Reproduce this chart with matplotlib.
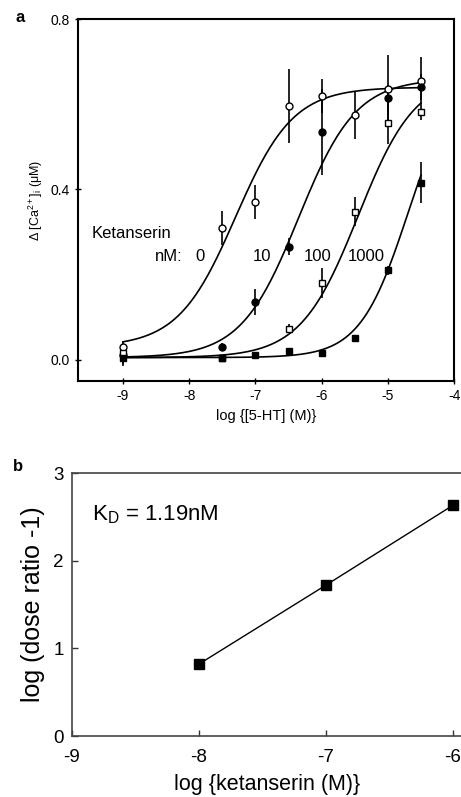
import numpy as np
import matplotlib
matplotlib.use("Agg")
import matplotlib.pyplot as plt

plt.rcParams['font.family'] = ['Liberation Sans', 'DejaVu Sans']
plt.rcParams['mathtext.fontset'] = 'custom'
plt.rcParams['mathtext.rm'] = 'Liberation Sans'
plt.rcParams['mathtext.it'] = 'Liberation Sans:italic'
plt.rcParams['axes.unicode_minus'] = False

# panel a: 5-HT concentration-response
x_0nM = [-9, -7.5, -7, -6.5, -6, -5.5, -5, -4.5]
y_0nM = [0.03, 0.31, 0.37, 0.595, 0.62, 0.575, 0.635, 0.655]
e_0nM = [0.015, 0.04, 0.04, 0.087, 0.04, 0.056, 0.08, 0.055]

x_10nM = [-9, -7.5, -7, -6.5, -6, -5, -4.5]
y_10nM = [0.01, 0.03, 0.135, 0.265, 0.535, 0.615, 0.64]
e_10nM = [0.02, 0.01, 0.03, 0.02, 0.1, 0.03, 0.03]

x_100nM = [-9, -7.5, -6.5, -6, -5.5, -5, -4.5]
y_100nM = [0.015, 0.005, 0.073, 0.18, 0.348, 0.557, 0.583]
e_100nM = [0.02, 0.0, 0.01, 0.035, 0.035, 0.05, 0.02]

x_1000nM = [-9, -7.5, -7, -6.5, -6, -5.5, -5, -4.5]
y_1000nM = [0.005, 0.005, 0.012, 0.02, 0.016, 0.05, 0.21, 0.416]
e_1000nM = [0.02, 0.0, 0.0, 0.0, 0.0, 0.0, 0.01, 0.048]

# fitted curve parameters (bottom, top, logEC50, hill slope)
fit_0nM = (0.03, 0.64, -7.3, 1.0)
fit_10nM = (0.005, 0.66, -6.35, 1.0)
fit_100nM = (0.005, 0.67, -5.45, 1.0)
fit_1000nM = (0.005, 0.68, -4.7, 1.2)

conc_labels = ['0', '10', '100', '1000']
conc_label_x = [-7.84, -6.9, -6.06, -5.32]

# panel b: Schild plot
log_ket = [-8, -7, -6]
log_dr1 = [0.82, 1.72, 2.63]


def hill(x, bottom, top, logec50, n):
    return bottom + (top - bottom) / (1 + 10 ** ((logec50 - x) * n))


fig = plt.figure(figsize=(4.61, 7.97), dpi=100)

# ---------------- panel a ----------------
ax1 = fig.add_axes([0.169, 0.522, 0.816, 0.454])
xs = np.linspace(-9, -4.5, 200)
series = [
    (x_0nM, y_0nM, e_0nM, fit_0nM, 'o', 'white'),
    (x_10nM, y_10nM, e_10nM, fit_10nM, 'o', 'black'),
    (x_100nM, y_100nM, e_100nM, fit_100nM, 's', 'white'),
    (x_1000nM, y_1000nM, e_1000nM, fit_1000nM, 's', 'black'),
]
for x, y, e, fit, mk, fc in series:
    ax1.plot(xs, hill(xs, *fit), color='black', lw=1.2, zorder=2)
    ax1.errorbar(x, y, yerr=e, fmt='none', ecolor='black', elinewidth=1.2,
                 capsize=0, zorder=3)
    ax1.plot(x, y, mk, ms=5, mfc=fc, mec='black', mew=1.0, zorder=4)

ax1.set_xlim(-9.68, -4)
ax1.set_ylim(-0.05, 0.8)
ax1.set_xticks([-9, -8, -7, -6, -5, -4])
ax1.set_yticks([0.0, 0.4, 0.8])
ax1.set_yticklabels(['0.0', '0.4', '0.8'])
ax1.tick_params(direction='inout', length=5, width=1.0, labelsize=10)
for s in ax1.spines.values():
    s.set_linewidth(1.5)
ax1.set_xlabel('log {[5-HT] (M)}', fontsize=10.5, labelpad=4)
ax1.set_ylabel(r'Δ [Ca$^{2+}$]$_\mathrm{i}$ (μM)', fontsize=9, labelpad=4)

ax1.text(-9.47, 0.296, 'Ketanserin', fontsize=12, va='center', ha='left')
ax1.text(-8.52, 0.242, 'nM:', fontsize=12, va='center', ha='left')
for lab, lx in zip(conc_labels, conc_label_x):
    ax1.text(lx, 0.242, lab, fontsize=12, va='center', ha='center')

fig.text(20 / 461, 1 - 18 / 797, 'a', fontsize=12, fontweight='bold',
         ha='center', va='center')

# ---------------- panel b ----------------
ax2 = fig.add_axes([0.156, 0.0765, 0.848, 0.33])
ax2.plot(log_ket, log_dr1, '-', color='black', lw=1.0, marker='s', ms=6.5,
         mfc='black', mec='black', clip_on=False)
ax2.set_xlim(-9, -5.92)
ax2.set_ylim(0, 3)
ax2.set_xticks([-9, -8, -7, -6])
ax2.set_yticks([0, 1, 2, 3])
ax2.tick_params(direction='in', length=4, width=1.0, labelsize=13.5,
                color='#333333')
ax2.tick_params(axis='x', pad=9)
ax2.tick_params(axis='y', pad=6)
for s in ax2.spines.values():
    s.set_linewidth(1.2)
    s.set_color('#444444')
ax2.set_xlabel('log {ketanserin (M)}', fontsize=15.5, labelpad=6)
ax2.set_ylabel('log (dose ratio -1)', fontsize=18, labelpad=6)
ax2.text(-8.84, 2.52, r'K$_\mathrm{D}$ = 1.19nM', fontsize=16, va='center',
         ha='left')

fig.text(18 / 461, 1 - 466 / 797, 'b', fontsize=12, fontweight='bold',
         ha='center', va='center')

fig.savefig('out.png', dpi=100)
